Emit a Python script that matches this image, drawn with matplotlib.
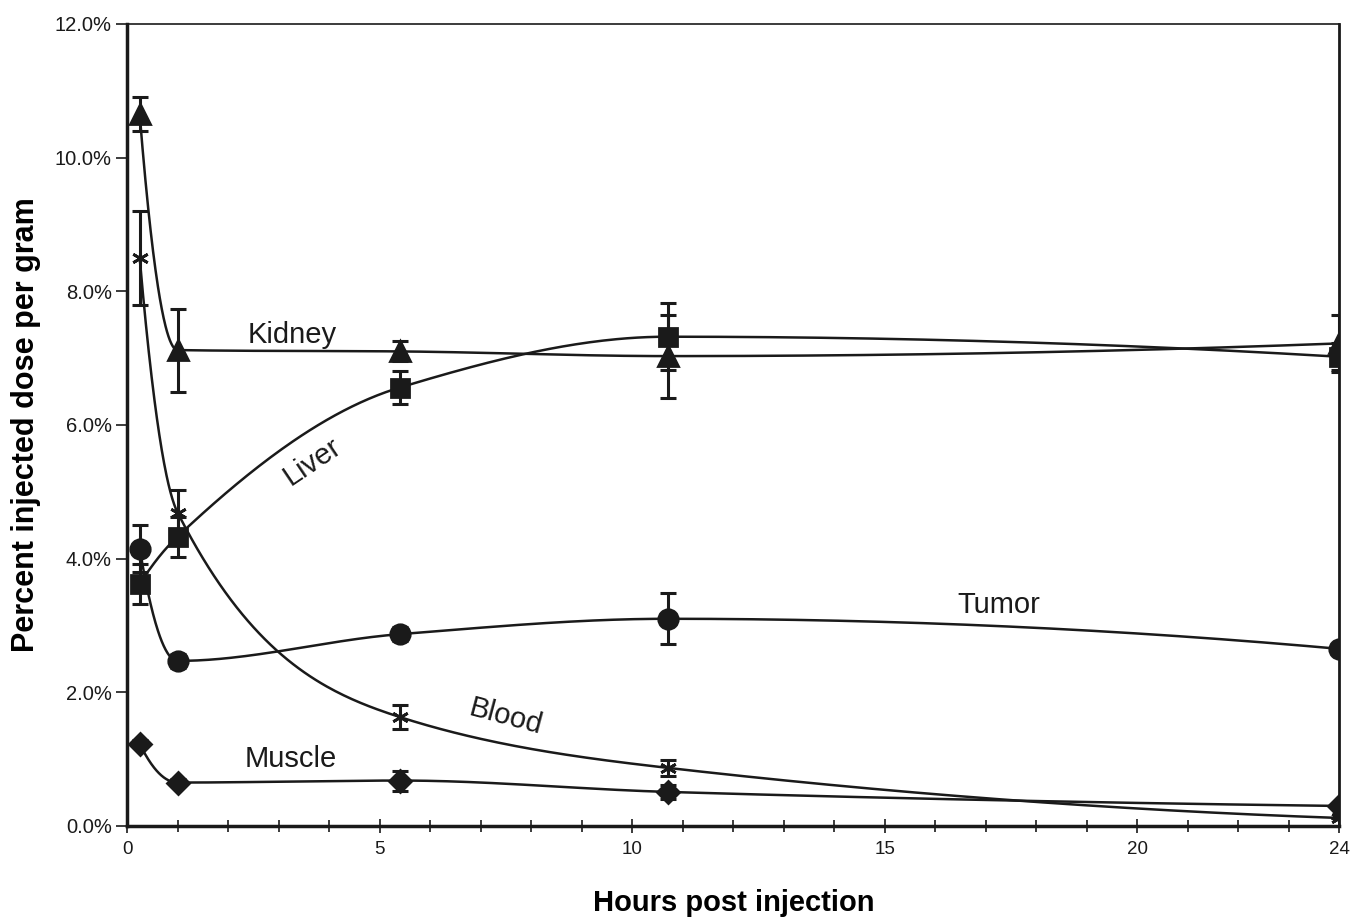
import numpy as np
import matplotlib
matplotlib.use("Agg")
import matplotlib.pyplot as plt
from matplotlib.ticker import FuncFormatter, MultipleLocator

plt.rcParams["font.family"] = ["Liberation Sans", "DejaVu Sans"]

# hours post injection
hours = [0.25, 1.0, 5.4, 10.7, 24.0]

# percent injected dose per gram
kidney = [10.65, 7.12, 7.10, 7.03, 7.22]
kidney_err = [0.25, 0.62, 0.15, 0.62, 0.43]
liver = [3.62, 4.33, 6.56, 7.32, 7.02]
liver_err = [0.30, 0.30, 0.25, 0.50, 0.20]
tumor = [4.15, 2.47, 2.87, 3.10, 2.65]
tumor_err = [0.35, 0.10, 0.10, 0.38, 0.0]
blood = [8.50, 4.69, 1.63, 0.87, 0.12]
blood_err = [0.70, 0.33, 0.18, 0.12, 0.0]
muscle = [1.23, 0.65, 0.68, 0.51, 0.30]
muscle_err = [0.05, 0.05, 0.15, 0.10, 0.0]


def smooth(x, y, n=80):
    # monotone cubic curve through the points, for the smoothed line look
    x = np.asarray(x, float)
    y = np.asarray(y, float)
    h = np.diff(x)
    d = np.diff(y) / h
    m = np.zeros_like(y)
    for i in range(1, len(x) - 1):
        if d[i - 1] * d[i] > 0:
            w1 = 2 * h[i] + h[i - 1]
            w2 = h[i] + 2 * h[i - 1]
            m[i] = (w1 + w2) / (w1 / d[i - 1] + w2 / d[i])
    # end slopes
    for e, k, s in ((0, 1, d[0]), (-1, -2, d[-1])):
        me = 2 * s - m[k]
        if me * s <= 0:
            me = 0.0
        elif abs(me) > 3 * abs(s):
            me = 3 * s
        m[e] = me
    xs, ys = [], []
    for i in range(len(x) - 1):
        t = np.linspace(0, 1, n)
        h00 = 2 * t ** 3 - 3 * t ** 2 + 1
        h10 = t ** 3 - 2 * t ** 2 + t
        h01 = -2 * t ** 3 + 3 * t ** 2
        h11 = t ** 3 - t ** 2
        xs.append(x[i] + t * h[i])
        ys.append(h00 * y[i] + h10 * h[i] * m[i] + h01 * y[i + 1] + h11 * h[i] * m[i + 1])
    return np.concatenate(xs), np.concatenate(ys)


fig = plt.figure(figsize=(13.53, 9.19), dpi=100)
ax = fig.add_axes([0.0939, 0.1012, 0.8961, 0.8728])

ink = "#1a1a1a"
series = [
    (kidney, kidney_err, "^", 14),
    (liver, liver_err, "s", 13),
    (tumor, tumor_err, "o", 14),
    (blood, blood_err, (6, 2, 0), 12),
    (muscle, muscle_err, "D", 11),
]

for vals, err, mk, ms in series:
    sx, sy = smooth(hours, vals)
    ax.plot(sx, sy, color=ink, lw=1.8, zorder=2)
    ax.errorbar(hours, vals, yerr=err, fmt="none", ecolor=ink,
                elinewidth=2.2, capsize=5.5, capthick=2.2, zorder=3)
    ax.plot(hours, vals, linestyle="none", marker=mk, markersize=ms,
            color=ink, markeredgewidth=2, zorder=4)

# series labels
lab = dict(fontsize=21, color=ink, ha="center", va="center")
ax.text(3.27, 7.35, "Kidney", **lab)
ax.text(3.66, 5.45, "Liver", rotation=34, **lab)
ax.text(17.25, 3.31, "Tumor", **lab)
ax.text(7.49, 1.63, "Blood", rotation=-15, **lab)
ax.text(3.25, 1.0, "Muscle", **lab)

ax.set_xlim(0, 24)
ax.set_ylim(0, 12)
ax.set_xticks([0, 5, 10, 15, 20, 24])
ax.xaxis.set_minor_locator(MultipleLocator(1))
ax.set_yticks(np.arange(0, 12.1, 2))
ax.yaxis.set_major_formatter(FuncFormatter(lambda v, p: f"{v:.1f}%"))

for s in ax.spines.values():
    s.set_linewidth(2.5)
    s.set_color(ink)
ax.spines["top"].set_linewidth(1.2)
ax.spines["right"].set_linewidth(2.0)

ax.tick_params(axis="x", which="both", direction="inout", length=10, width=1.2,
               labelsize=13.5, pad=6, colors=ink)
ax.tick_params(axis="x", which="minor", length=8)
ax.tick_params(axis="y", direction="out", length=8, width=1.2, labelsize=14.5,
               pad=3, colors=ink)

ax.set_xlabel("Hours post injection", fontsize=21, fontweight="bold", labelpad=22)
ax.set_ylabel("Percent injected dose per gram", fontsize=22, fontweight="bold",
              labelpad=10)

fig.savefig("out.png", dpi=100)
